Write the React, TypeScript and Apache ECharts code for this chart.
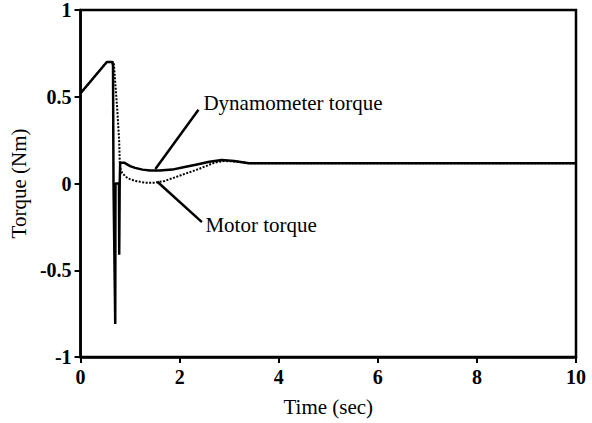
import React, { useEffect, useRef } from "react";
import * as echarts from "echarts";

const dynTime = [0, 0.53, 0.64, 0.655, 0.665, 0.70, 0.705, 0.775, 0.78, 0.79, 0.8, 0.88, 1.0, 1.1, 1.25, 1.4, 1.6, 1.85, 2.1, 2.35, 2.6, 2.85, 3.1, 3.4, 4, 10];
const dynTorque = [0.52, 0.70, 0.70, 0.68, 0.0, -0.81, 0.0, 0.0, -0.41, 0.0, 0.12, 0.12, 0.10, 0.09, 0.08, 0.075, 0.075, 0.08, 0.095, 0.11, 0.125, 0.135, 0.13, 0.117, 0.117, 0.117];

const motorTime = [0, 0.53, 0.67, 0.68, 0.74, 0.78, 0.79, 0.8, 0.84, 0.95, 1.1, 1.3, 1.5, 1.7, 2.0, 2.4, 2.7, 2.9, 3.2, 3.4, 4, 10];
const motorTorque = [0.52, 0.70, 0.70, 0.66, 0.43, 0.24, 0.13, 0.09, 0.06, 0.03, 0.015, 0.005, 0.005, 0.015, 0.045, 0.085, 0.12, 0.13, 0.125, 0.117, 0.117, 0.117];

const xTicks = { min: 0, max: 10, interval: 2 };
const yTicks = { min: -1, max: 1, interval: 0.5 };

const annotations = [
  { text: "Dynamometer torque", from: [1.51, 0.083], to: [2.38, 0.425], at: [2.48, 0.464] },
  { text: "Motor torque", from: [1.55, 0.01], to: [2.45, -0.223], at: [2.52, -0.24] },
];

const FONT = "'Liberation Serif', 'Times New Roman', serif";

export default function App() {
  const ref = useRef<HTMLDivElement>(null);
  useEffect(() => {
    if (!ref.current) return;
    const chart = echarts.init(ref.current, null, { renderer: "svg" });
    const zip = (t: number[], v: number[]) => t.map((x, i) => [x, v[i]]);
    chart.setOption({
      animation: false,
      backgroundColor: "#fff",
      grid: {
        left: 78, right: 16, top: 7, bottom: 66,
        show: true, borderColor: "#000", borderWidth: 2.5,
      },
      xAxis: {
        type: "value", ...xTicks,
        name: "Time (sec)", nameLocation: "middle", nameGap: 39,
        nameTextStyle: { fontFamily: FONT, fontSize: 21, color: "#000" },
        axisLine: { show: true, onZero: false, lineStyle: { color: "#000", width: 2.5 } },
        axisTick: { show: true, inside: false, length: 6, lineStyle: { color: "#000", width: 2 } },
        axisLabel: { fontFamily: FONT, fontSize: 20, fontWeight: "bold", color: "#000", margin: 10 },
        splitLine: { show: false },
      },
      yAxis: {
        type: "value", ...yTicks,
        name: "Torque (Nm)", nameLocation: "middle", nameGap: 44,
        nameTextStyle: { fontFamily: FONT, fontSize: 21, color: "#000" },
        axisLine: { show: true, onZero: false, lineStyle: { color: "#000", width: 2.5 } },
        axisTick: { show: true, inside: false, length: 6, lineStyle: { color: "#000", width: 2 } },
        axisLabel: { fontFamily: FONT, fontSize: 20, fontWeight: "bold", color: "#000", margin: 9 },
        splitLine: { show: false },
      },
      series: [
        {
          name: "Motor torque", type: "line", data: zip(motorTime, motorTorque),
          symbol: "none", silent: true,
          lineStyle: { color: "#000", width: 2, type: [2, 1.5] },
        },
        {
          name: "Dynamometer torque", type: "line", data: zip(dynTime, dynTorque),
          symbol: "none", silent: true,
          lineStyle: { color: "#000", width: 2.5 },
          markLine: {
            silent: true, symbol: "none", animation: false,
            label: { show: false },
            lineStyle: { color: "#000", width: 2.5, type: "solid" },
            data: annotations.map((a) => [{ coord: a.from }, { coord: a.to }]),
          },
          markPoint: {
            silent: true, animation: false, symbol: "circle", symbolSize: 0,
            data: annotations.map((a) => ({
              coord: a.at,
              label: {
                show: true, position: "right", distance: 0, formatter: a.text,
                fontFamily: FONT, fontSize: 21, color: "#000",
              },
            })),
          },
        },
      ],
    });
    return () => chart.dispose();
  }, []);
  return <div ref={ref} style={{ width: 592, height: 423, position: "absolute", left: 0, top: 0 }} />;
}
